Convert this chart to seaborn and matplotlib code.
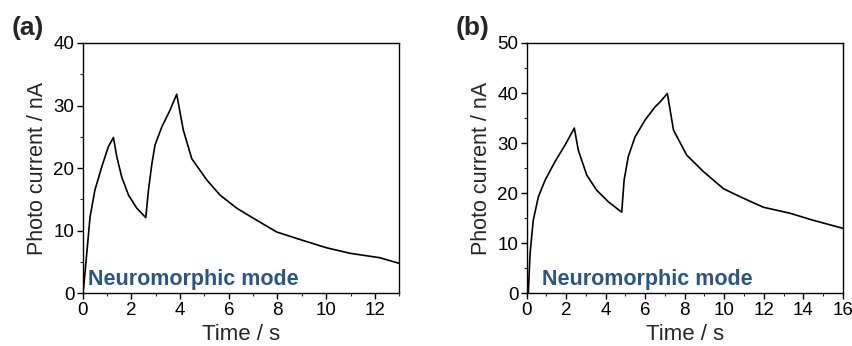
import numpy as np
import pandas as pd
import matplotlib
matplotlib.use("Agg")
import matplotlib.pyplot as plt
import seaborn as sns
from matplotlib.ticker import MultipleLocator

# panel (a) data
time_a = [0.02, 0.05, 0.14, 0.3, 0.5, 0.78, 1.05, 1.26,
          1.4, 1.6, 1.88, 2.22, 2.59,
          2.7, 2.84, 2.97, 3.25, 3.59, 3.86,
          4.13, 4.48, 5.1, 5.64, 6.33, 7.01, 7.97, 8.93, 10.0, 10.99, 12.2, 13.0]
curr_a = [0.5, 1.5, 5.3, 12.2, 16.5, 20.2, 23.4, 24.9,
          21.8, 18.6, 15.7, 13.6, 12.1,
          16.5, 20.7, 23.7, 26.6, 29.3, 31.8,
          26.1, 21.5, 18.1, 15.7, 13.6, 12.0, 9.8, 8.6, 7.3, 6.4, 5.7, 4.8]

# panel (b) data
time_b = [0.08, 0.17, 0.33, 0.59, 0.93, 1.43, 1.94, 2.41,
          2.61, 3.04, 3.54, 4.13, 4.81,
          4.93, 5.14, 5.48, 5.99, 6.49, 6.75, 7.12,
          7.43, 8.1, 8.95, 9.96, 10.8, 11.98, 13.33, 14.5, 16.0]
curr_b = [0.0, 8.0, 14.6, 19.3, 22.6, 26.3, 29.6, 33.0,
          28.6, 23.6, 20.6, 18.3, 16.2,
          22.6, 27.3, 31.2, 34.6, 37.2, 38.2, 39.9,
          32.6, 27.6, 24.3, 20.9, 19.3, 17.2, 16.0, 14.6, 13.0]

sns.set_style("ticks")
plt.rcParams['font.family'] = ['Liberation Sans', 'DejaVu Sans']

fig = plt.figure(figsize=(8.53, 3.46), dpi=100)
ax_a = fig.add_axes([0.097, 0.152, 0.371, 0.724])
ax_b = fig.add_axes([0.6175, 0.152, 0.3705, 0.724])

panels = [
    (ax_a, time_a, curr_a, 13, 40, 2, 10, "(a)", 0.2),
    (ax_b, time_b, curr_b, 16, 50, 2, 10, "(b)", 0.76),
]

for ax, t, c, xmax, ymax, xstep, ystep, tag, tx in panels:
    df = pd.DataFrame({'t': t, 'I': c})
    sns.lineplot(data=df, x='t', y='I', ax=ax, color='black', linewidth=1.2)
    ax.set_xlim(0, xmax)
    ax.set_ylim(0, ymax)
    ax.xaxis.set_major_locator(MultipleLocator(xstep))
    ax.xaxis.set_minor_locator(MultipleLocator(xstep / 2))
    ax.yaxis.set_major_locator(MultipleLocator(ystep))
    ax.yaxis.set_minor_locator(MultipleLocator(ystep / 2))
    ax.tick_params(which='major', direction='out', length=4, width=1, labelsize=13.5,
                   colors='black', pad=2)
    ax.tick_params(which='minor', direction='out', length=2.5, width=0.8)
    for s in ax.spines.values():
        s.set_visible(True)
        s.set_linewidth(1)
        s.set_color('black')
    ax.set_xlabel('Time / s', fontsize=16, labelpad=4)
    ax.set_ylabel('Photo current / nA', fontsize=15.5, labelpad=4)
    ax.text(tx, ymax * 0.015, 'Neuromorphic mode', color='#2b5582', fontsize=15.5,
            fontweight='bold', ha='left', va='bottom')
    fig.text(ax.get_position().x0 - 0.083, 0.885, tag, fontsize=19, fontweight='bold',
             ha='left', va='bottom')

fig.savefig('out.png', dpi=100)
